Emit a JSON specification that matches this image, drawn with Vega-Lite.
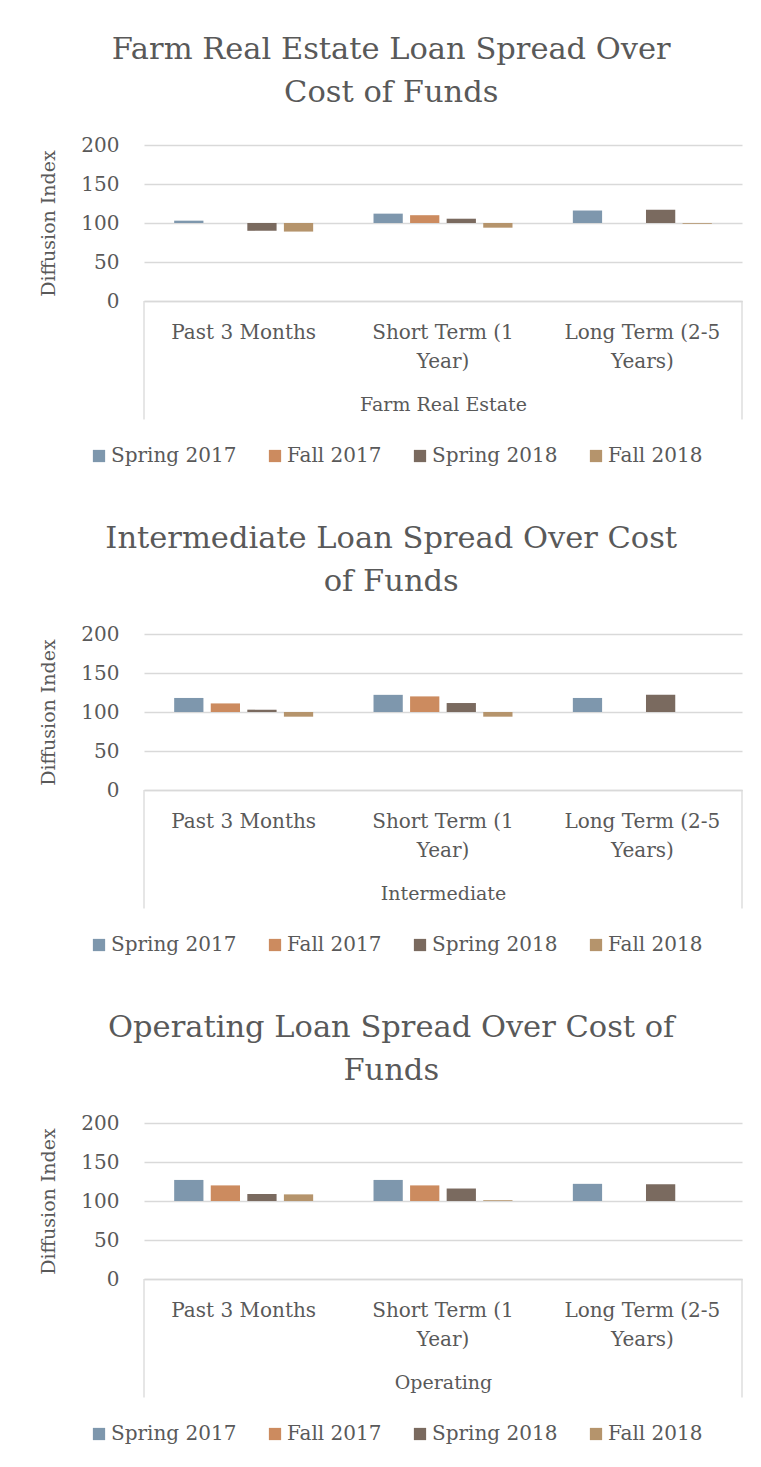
{
  "$schema": "https://vega.github.io/schema/vega-lite/v6.json",
  "padding": {"left": 39, "top": 34, "right": 10, "bottom": 0},
  "spacing": 57,
  "datasets": {
    "loans": [
      {"panel": "Farm Real Estate", "term": "Past 3 Months", "season": "Spring 2017", "value": 103},
      {"panel": "Farm Real Estate", "term": "Past 3 Months", "season": "Spring 2018", "value": 90},
      {"panel": "Farm Real Estate", "term": "Past 3 Months", "season": "Fall 2018", "value": 89},
      {"panel": "Farm Real Estate", "term": "Short Term (1 Year)", "season": "Spring 2017", "value": 112},
      {"panel": "Farm Real Estate", "term": "Short Term (1 Year)", "season": "Fall 2017", "value": 110},
      {"panel": "Farm Real Estate", "term": "Short Term (1 Year)", "season": "Spring 2018", "value": 105.5},
      {"panel": "Farm Real Estate", "term": "Short Term (1 Year)", "season": "Fall 2018", "value": 94},
      {"panel": "Farm Real Estate", "term": "Long Term (2-5 Years)", "season": "Spring 2017", "value": 116},
      {"panel": "Farm Real Estate", "term": "Long Term (2-5 Years)", "season": "Spring 2018", "value": 117},
      {"panel": "Farm Real Estate", "term": "Long Term (2-5 Years)", "season": "Fall 2018", "value": 99},
      {"panel": "Intermediate", "term": "Past 3 Months", "season": "Spring 2017", "value": 118},
      {"panel": "Intermediate", "term": "Past 3 Months", "season": "Fall 2017", "value": 111},
      {"panel": "Intermediate", "term": "Past 3 Months", "season": "Spring 2018", "value": 103},
      {"panel": "Intermediate", "term": "Past 3 Months", "season": "Fall 2018", "value": 94},
      {"panel": "Intermediate", "term": "Short Term (1 Year)", "season": "Spring 2017", "value": 122},
      {"panel": "Intermediate", "term": "Short Term (1 Year)", "season": "Fall 2017", "value": 120},
      {"panel": "Intermediate", "term": "Short Term (1 Year)", "season": "Spring 2018", "value": 111.5},
      {"panel": "Intermediate", "term": "Short Term (1 Year)", "season": "Fall 2018", "value": 94},
      {"panel": "Intermediate", "term": "Long Term (2-5 Years)", "season": "Spring 2017", "value": 118},
      {"panel": "Intermediate", "term": "Long Term (2-5 Years)", "season": "Spring 2018", "value": 122},
      {"panel": "Operating", "term": "Past 3 Months", "season": "Spring 2017", "value": 127},
      {"panel": "Operating", "term": "Past 3 Months", "season": "Fall 2017", "value": 120},
      {"panel": "Operating", "term": "Past 3 Months", "season": "Spring 2018", "value": 109},
      {"panel": "Operating", "term": "Past 3 Months", "season": "Fall 2018", "value": 108.5},
      {"panel": "Operating", "term": "Short Term (1 Year)", "season": "Spring 2017", "value": 127},
      {"panel": "Operating", "term": "Short Term (1 Year)", "season": "Fall 2017", "value": 120},
      {"panel": "Operating", "term": "Short Term (1 Year)", "season": "Spring 2018", "value": 116},
      {"panel": "Operating", "term": "Short Term (1 Year)", "season": "Fall 2018", "value": 101},
      {"panel": "Operating", "term": "Long Term (2-5 Years)", "season": "Spring 2017", "value": 122},
      {"panel": "Operating", "term": "Long Term (2-5 Years)", "season": "Spring 2018", "value": 121.5}
    ],
    "leftEdge": [{"term": "Past 3 Months"}],
    "rightEdge": [{"term": "Long Term (2-5 Years)"}]
  },
  "config": {
    "font": "DejaVu Serif",
    "view": {"stroke": null},
    "axis": {"labelFont": "DejaVu Serif", "titleFont": "DejaVu Serif", "labelColor": "#595959", "titleColor": "#595959", "titleFontWeight": "normal", "labelFontSize": 20, "titleFontSize": 19},
    "axisX": {"labelAngle": 0, "ticks": false, "domainColor": "#D9D9D9", "domainWidth": 1.3, "labelPadding": 21, "labelLineHeight": 29, "titlePadding": 24, "labelLimit": 300},
    "axisY": {"grid": true, "gridColor": "#D9D9D9", "gridWidth": 1.3, "domain": false, "ticks": false, "labelPadding": 25, "titlePadding": 22},
    "legend": {"labelFont": "DejaVu Serif", "labelFontSize": 20, "labelColor": "#595959", "symbolType": "square", "symbolSize": 150, "symbolStrokeWidth": 0, "labelOffset": 2, "columnPadding": 28, "direction": "horizontal", "orient": "none", "legendX": -55, "legendY": 301, "title": null},
    "title": {"font": "DejaVu Serif", "fontSize": 30.5, "fontWeight": "normal", "color": "#595959", "lineHeight": 43, "anchor": "middle", "frame": "bounds", "offset": 27}
  },
  "resolve": {"legend": {"color": "independent"}},
  "vconcat": [
    {
      "title": {"text": ["Farm Real Estate Loan Spread Over", "Cost of Funds"]},
      "width": 598, "height": 156,
      "layer": [
        {
          "data": {"name": "loans"},
          "transform": [{"filter": "datum.panel == 'Farm Real Estate'"}],
          "mark": {"type": "bar"},
          "encoding": {
            "x": {"field": "term", "type": "nominal", "sort": ["Past 3 Months", "Short Term (1 Year)", "Long Term (2-5 Years)"], "scale": {"domain": ["Past 3 Months", "Short Term (1 Year)", "Long Term (2-5 Years)"], "paddingInner": 0, "paddingOuter": 0},
              "axis": {"title": "Farm Real Estate", "labelExpr": "datum.value == 'Short Term (1 Year)' ? ['Short Term (1', 'Year)'] : datum.value == 'Long Term (2-5 Years)' ? ['Long Term (2-5', 'Years)'] : datum.value"}},
            "xOffset": {"field": "season", "type": "nominal", "scale": {"domain": ["Spring 2017", "Fall 2017", "Spring 2018", "Fall 2018"], "paddingInner": 0.2, "paddingOuter": 0.825}},
            "y": {"field": "value", "type": "quantitative", "scale": {"domain": [0, 200]}, "axis": {"title": "Diffusion Index", "values": [0, 50, 100, 150, 200]}},
            "y2": {"datum": 100},
            "color": {"field": "season", "type": "nominal", "scale": {"domain": ["Spring 2017", "Fall 2017", "Spring 2018", "Fall 2018"], "range": ["#7E97AD", "#CC8B5F", "#7A6A5F", "#B5946C"]}, "legend": {"columns": 4}}
          }
        },
        {
          "data": {"name": "leftEdge"},
          "mark": {"type": "rule", "color": "#D9D9D9", "strokeWidth": 1.3},
          "encoding": {
            "x": {"field": "term", "type": "nominal", "bandPosition": 0, "scale": {"domain": ["Past 3 Months", "Short Term (1 Year)", "Long Term (2-5 Years)"]},
              "axis": {"title": "Farm Real Estate", "labelExpr": "datum.value == 'Short Term (1 Year)' ? ['Short Term (1', 'Year)'] : datum.value == 'Long Term (2-5 Years)' ? ['Long Term (2-5', 'Years)'] : datum.value"}},
            "y": {"datum": 0, "type": "quantitative", "axis": {"title": "Diffusion Index", "values": [0, 50, 100, 150, 200]}},
            "y2": {"datum": -152}
          }
        },
        {
          "data": {"name": "rightEdge"},
          "mark": {"type": "rule", "color": "#D9D9D9", "strokeWidth": 1.3},
          "encoding": {
            "x": {"field": "term", "type": "nominal", "bandPosition": 1, "scale": {"domain": ["Past 3 Months", "Short Term (1 Year)", "Long Term (2-5 Years)"]},
              "axis": {"title": "Farm Real Estate", "labelExpr": "datum.value == 'Short Term (1 Year)' ? ['Short Term (1', 'Year)'] : datum.value == 'Long Term (2-5 Years)' ? ['Long Term (2-5', 'Years)'] : datum.value"}},
            "y": {"datum": 0, "type": "quantitative", "axis": {"title": "Diffusion Index", "values": [0, 50, 100, 150, 200]}},
            "y2": {"datum": -152}
          }
        }
      ]
    },
    {
      "title": {"text": ["Intermediate Loan Spread Over Cost", "of Funds"]},
      "width": 598, "height": 156,
      "layer": [
        {
          "data": {"name": "loans"},
          "transform": [{"filter": "datum.panel == 'Intermediate'"}],
          "mark": {"type": "bar"},
          "encoding": {
            "x": {"field": "term", "type": "nominal", "sort": ["Past 3 Months", "Short Term (1 Year)", "Long Term (2-5 Years)"], "scale": {"domain": ["Past 3 Months", "Short Term (1 Year)", "Long Term (2-5 Years)"], "paddingInner": 0, "paddingOuter": 0},
              "axis": {"title": "Intermediate", "labelExpr": "datum.value == 'Short Term (1 Year)' ? ['Short Term (1', 'Year)'] : datum.value == 'Long Term (2-5 Years)' ? ['Long Term (2-5', 'Years)'] : datum.value"}},
            "xOffset": {"field": "season", "type": "nominal", "scale": {"domain": ["Spring 2017", "Fall 2017", "Spring 2018", "Fall 2018"], "paddingInner": 0.2, "paddingOuter": 0.825}},
            "y": {"field": "value", "type": "quantitative", "scale": {"domain": [0, 200]}, "axis": {"title": "Diffusion Index", "values": [0, 50, 100, 150, 200]}},
            "y2": {"datum": 100},
            "color": {"field": "season", "type": "nominal", "scale": {"domain": ["Spring 2017", "Fall 2017", "Spring 2018", "Fall 2018"], "range": ["#7E97AD", "#CC8B5F", "#7A6A5F", "#B5946C"]}, "legend": {"columns": 4}}
          }
        },
        {
          "data": {"name": "leftEdge"},
          "mark": {"type": "rule", "color": "#D9D9D9", "strokeWidth": 1.3},
          "encoding": {
            "x": {"field": "term", "type": "nominal", "bandPosition": 0, "scale": {"domain": ["Past 3 Months", "Short Term (1 Year)", "Long Term (2-5 Years)"]},
              "axis": {"title": "Intermediate", "labelExpr": "datum.value == 'Short Term (1 Year)' ? ['Short Term (1', 'Year)'] : datum.value == 'Long Term (2-5 Years)' ? ['Long Term (2-5', 'Years)'] : datum.value"}},
            "y": {"datum": 0, "type": "quantitative", "axis": {"title": "Diffusion Index", "values": [0, 50, 100, 150, 200]}},
            "y2": {"datum": -152}
          }
        },
        {
          "data": {"name": "rightEdge"},
          "mark": {"type": "rule", "color": "#D9D9D9", "strokeWidth": 1.3},
          "encoding": {
            "x": {"field": "term", "type": "nominal", "bandPosition": 1, "scale": {"domain": ["Past 3 Months", "Short Term (1 Year)", "Long Term (2-5 Years)"]},
              "axis": {"title": "Intermediate", "labelExpr": "datum.value == 'Short Term (1 Year)' ? ['Short Term (1', 'Year)'] : datum.value == 'Long Term (2-5 Years)' ? ['Long Term (2-5', 'Years)'] : datum.value"}},
            "y": {"datum": 0, "type": "quantitative", "axis": {"title": "Diffusion Index", "values": [0, 50, 100, 150, 200]}},
            "y2": {"datum": -152}
          }
        }
      ]
    },
    {
      "title": {"text": ["Operating Loan Spread Over Cost of", "Funds"]},
      "width": 598, "height": 156,
      "layer": [
        {
          "data": {"name": "loans"},
          "transform": [{"filter": "datum.panel == 'Operating'"}],
          "mark": {"type": "bar"},
          "encoding": {
            "x": {"field": "term", "type": "nominal", "sort": ["Past 3 Months", "Short Term (1 Year)", "Long Term (2-5 Years)"], "scale": {"domain": ["Past 3 Months", "Short Term (1 Year)", "Long Term (2-5 Years)"], "paddingInner": 0, "paddingOuter": 0},
              "axis": {"title": "Operating", "labelExpr": "datum.value == 'Short Term (1 Year)' ? ['Short Term (1', 'Year)'] : datum.value == 'Long Term (2-5 Years)' ? ['Long Term (2-5', 'Years)'] : datum.value"}},
            "xOffset": {"field": "season", "type": "nominal", "scale": {"domain": ["Spring 2017", "Fall 2017", "Spring 2018", "Fall 2018"], "paddingInner": 0.2, "paddingOuter": 0.825}},
            "y": {"field": "value", "type": "quantitative", "scale": {"domain": [0, 200]}, "axis": {"title": "Diffusion Index", "values": [0, 50, 100, 150, 200]}},
            "y2": {"datum": 100},
            "color": {"field": "season", "type": "nominal", "scale": {"domain": ["Spring 2017", "Fall 2017", "Spring 2018", "Fall 2018"], "range": ["#7E97AD", "#CC8B5F", "#7A6A5F", "#B5946C"]}, "legend": {"columns": 4}}
          }
        },
        {
          "data": {"name": "leftEdge"},
          "mark": {"type": "rule", "color": "#D9D9D9", "strokeWidth": 1.3},
          "encoding": {
            "x": {"field": "term", "type": "nominal", "bandPosition": 0, "scale": {"domain": ["Past 3 Months", "Short Term (1 Year)", "Long Term (2-5 Years)"]},
              "axis": {"title": "Operating", "labelExpr": "datum.value == 'Short Term (1 Year)' ? ['Short Term (1', 'Year)'] : datum.value == 'Long Term (2-5 Years)' ? ['Long Term (2-5', 'Years)'] : datum.value"}},
            "y": {"datum": 0, "type": "quantitative", "axis": {"title": "Diffusion Index", "values": [0, 50, 100, 150, 200]}},
            "y2": {"datum": -152}
          }
        },
        {
          "data": {"name": "rightEdge"},
          "mark": {"type": "rule", "color": "#D9D9D9", "strokeWidth": 1.3},
          "encoding": {
            "x": {"field": "term", "type": "nominal", "bandPosition": 1, "scale": {"domain": ["Past 3 Months", "Short Term (1 Year)", "Long Term (2-5 Years)"]},
              "axis": {"title": "Operating", "labelExpr": "datum.value == 'Short Term (1 Year)' ? ['Short Term (1', 'Year)'] : datum.value == 'Long Term (2-5 Years)' ? ['Long Term (2-5', 'Years)'] : datum.value"}},
            "y": {"datum": 0, "type": "quantitative", "axis": {"title": "Diffusion Index", "values": [0, 50, 100, 150, 200]}},
            "y2": {"datum": -152}
          }
        }
      ]
    }
  ]
}
